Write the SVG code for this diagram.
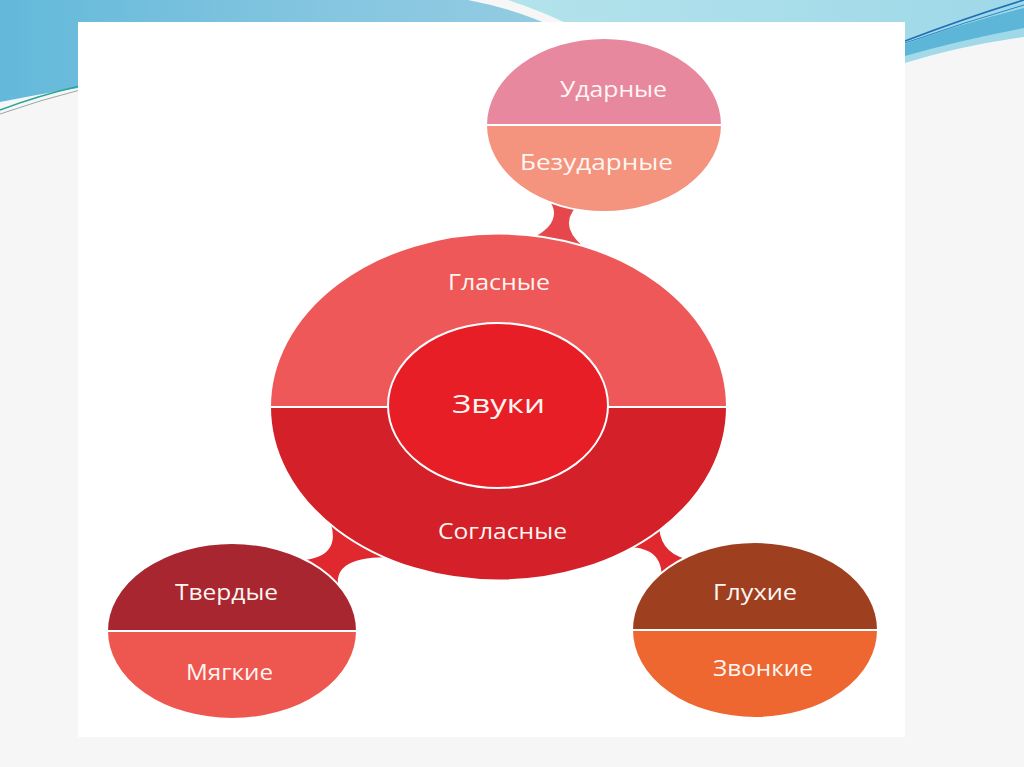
<svg xmlns="http://www.w3.org/2000/svg" width="1024" height="767" viewBox="0 0 1024 767">
  <defs>
    <linearGradient id="gLeft" x1="0" y1="0" x2="1" y2="0">
      <stop offset="0" stop-color="#63B9DA"/>
      <stop offset="0.6" stop-color="#86C6E0"/>
      <stop offset="1" stop-color="#93CCE2"/>
    </linearGradient>
    <linearGradient id="gRight" x1="0" y1="0" x2="1" y2="0">
      <stop offset="0" stop-color="#B3E3EC"/>
      <stop offset="1" stop-color="#9FD8E8"/>
    </linearGradient>
    <style>
      .lbl { font-family: "Open Sans", "Liberation Sans", sans-serif; font-size: 21px; font-weight: 500; fill: #FFF6F2; text-anchor: middle; }
      .big { font-size: 25px; }
      .edge { stroke: #FFFFFF; stroke-width: 2; }
      .conn { stroke: #FFFFFF; stroke-width: 1.5; }
    </style>
  </defs>

  <!-- background -->
  <rect x="0" y="0" width="1024" height="767" fill="#F6F6F6"/>
  <path d="M0,0 L468,0 Q520,10 560,30 L560,60 L78,88 Q40,94 0,102 Z" fill="url(#gLeft)"/>
  <path d="M508,0 L1024,0 L1024,37 Q960,46 905,63 L905,40 L580,30 Q545,12 508,0 Z" fill="url(#gRight)"/>
  <path d="M905,44 Q960,24 1024,8 L1024,28 Q960,40 905,56 Z" fill="#5DB5D8"/>
  <path d="M905,41 Q965,18 1024,0" fill="none" stroke="#1F6FB5" stroke-width="1.5"/>
  <path d="M905,43 Q965,22 1024,5" fill="none" stroke="#2B86C4" stroke-width="1"/>
  <path d="M0,110 Q40,95 80,86" fill="none" stroke="#2AA597" stroke-width="1.5"/>
  <path d="M0,114 Q40,100 80,90" fill="none" stroke="#9AA7A8" stroke-width="1"/>
  <rect x="78" y="22" width="827" height="715" fill="#FFFFFF"/>

  <!-- connectors -->
  <g id="connectors">
    <path class="conn" d="M522,242 Q566,224 548,200 L578,206 Q556,228 592,252 Z" fill="#E6474C"/>
    <path class="conn" d="M292,560 Q345,560 328,518 L392,558 Q325,556 342,596 Z" fill="#E0292F"/>
    <path class="conn" d="M628,548 L660,528 Q662,556 695,560 L660,585 Q666,548 628,548 Z" fill="#E0292F"/>
  </g>

  <!-- central node -->
  <g id="node-center">
    <path class="edge" d="M270,407 A228.5,173.5 0 0 1 727,407 Z" fill="#EE5859"/>
    <path class="edge" d="M270,407 A228.5,173.5 0 0 0 727,407 Z" fill="#D42028"/>
    <ellipse class="edge" cx="498" cy="405.5" rx="110" ry="82.5" fill="#E81E27" stroke-width="3"/>
    <text class="lbl" x="499" y="290" textLength="102" lengthAdjust="spacingAndGlyphs">Гласные</text>
    <text class="lbl big" x="498.5" y="413" textLength="93" lengthAdjust="spacingAndGlyphs">Звуки</text>
    <text class="lbl" x="502.5" y="539" textLength="129" lengthAdjust="spacingAndGlyphs">Согласные</text>
  </g>

  <!-- top node -->
  <g id="node-top">
    <path class="edge" d="M486,125 A118,87 0 0 1 722,125 Z" fill="#E8889F"/>
    <path class="edge" d="M486,125 A118,87 0 0 0 722,125 Z" fill="#F4937E"/>
    <text class="lbl" x="613.5" y="97" textLength="107" lengthAdjust="spacingAndGlyphs">Ударные</text>
    <text class="lbl" x="596.5" y="170" textLength="153" lengthAdjust="spacingAndGlyphs">Безударные</text>
  </g>

  <!-- bottom-left node -->
  <g id="node-left">
    <path class="edge" d="M107,631 A125,88 0 0 1 357,631 Z" fill="#A8262F"/>
    <path class="edge" d="M107,631 A125,88 0 0 0 357,631 Z" fill="#EE5650"/>
    <text class="lbl" x="226.5" y="600" textLength="103" lengthAdjust="spacingAndGlyphs">Твердые</text>
    <text class="lbl" x="229.5" y="680" textLength="87" lengthAdjust="spacingAndGlyphs">Мягкие</text>
  </g>

  <!-- bottom-right node -->
  <g id="node-right">
    <path class="edge" d="M632,630 A123,88 0 0 1 878,630 Z" fill="#9E3F20"/>
    <path class="edge" d="M632,630 A123,88 0 0 0 878,630 Z" fill="#EE6630"/>
    <text class="lbl" x="755" y="600" textLength="84" lengthAdjust="spacingAndGlyphs">Глухие</text>
    <text class="lbl" x="763" y="676" textLength="100" lengthAdjust="spacingAndGlyphs">Звонкие</text>
  </g>
</svg>
